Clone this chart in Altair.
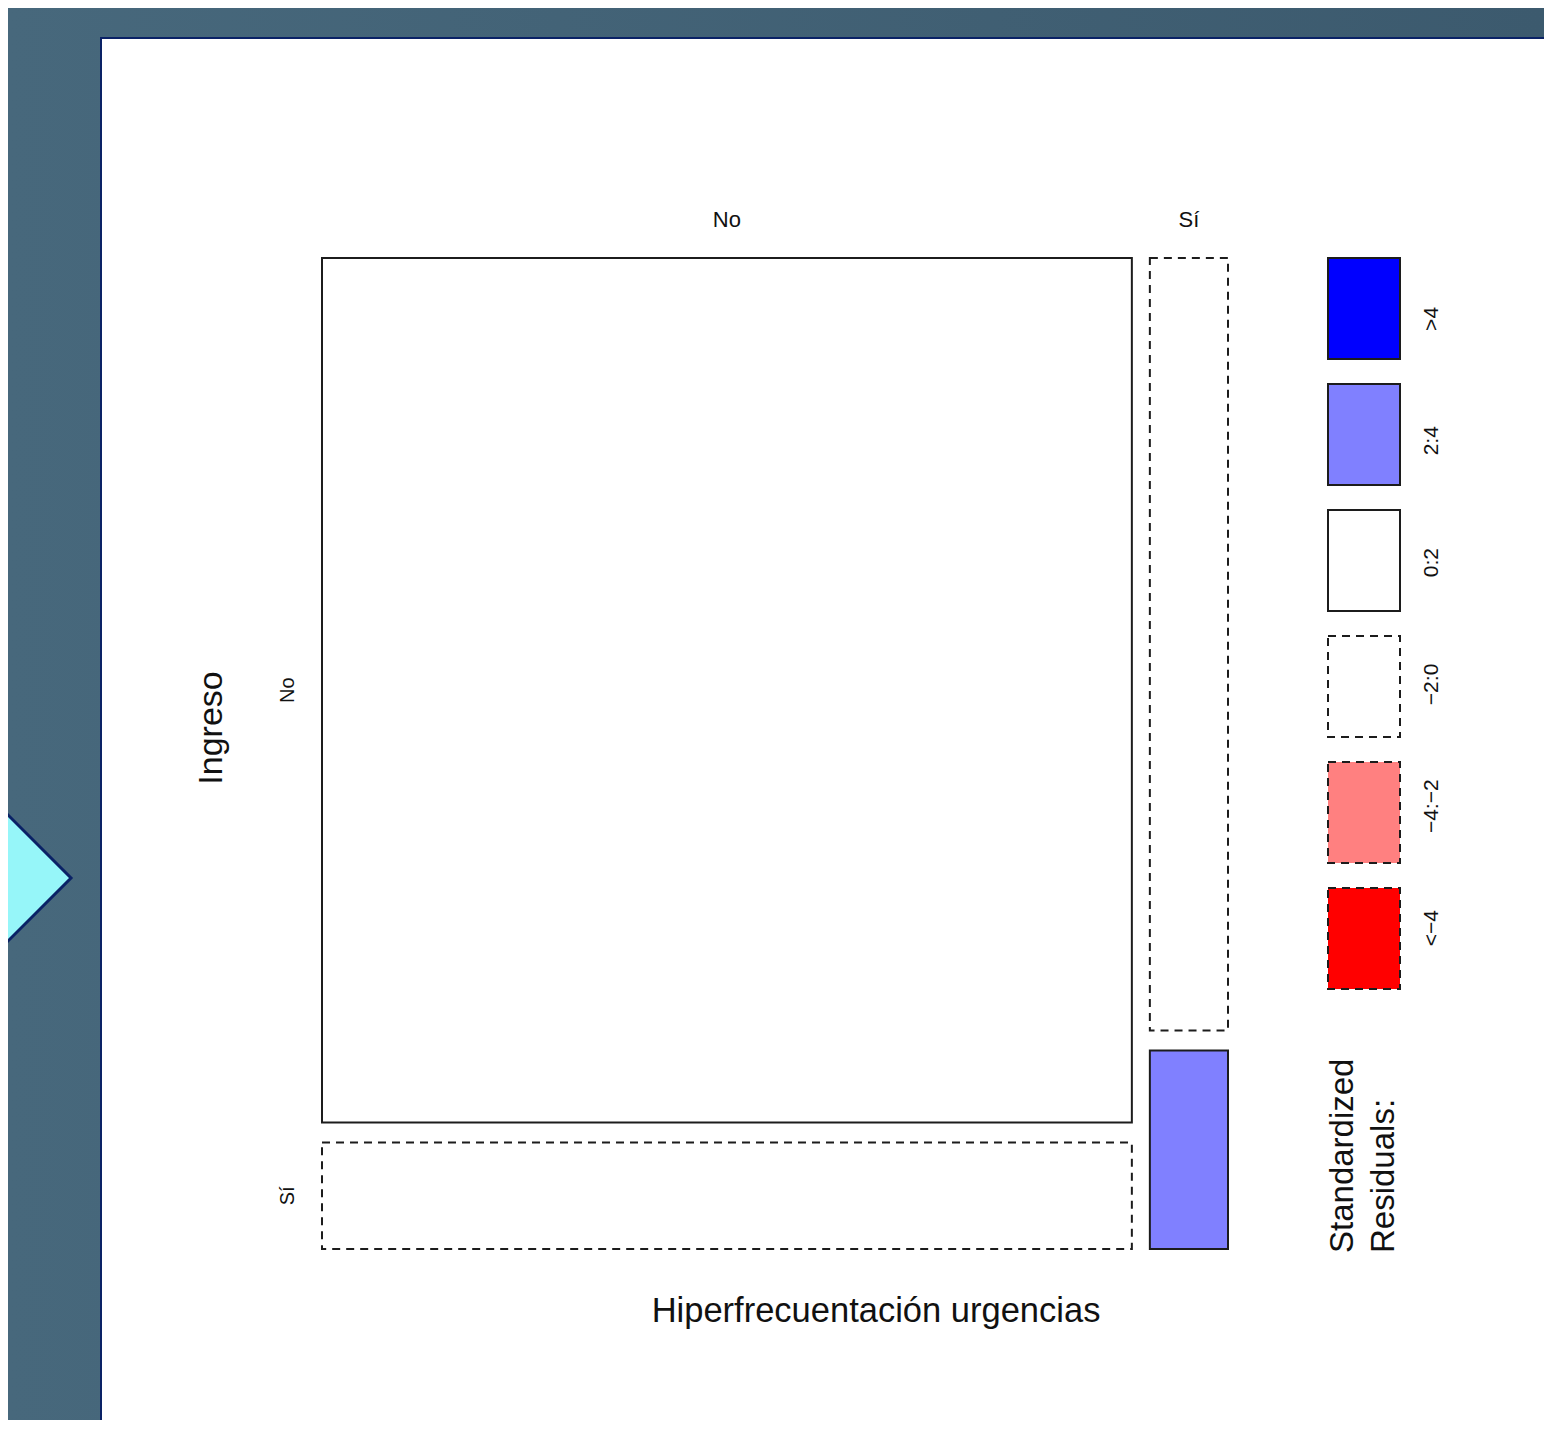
import altair as alt
import numpy as np
import pandas as pd

# ---------------- data ----------------
COL_CATS = ["No", "Sí"]          # Hiperfrecuentación urgencias
ROW_CATS = ["No", "Sí"]          # Ingreso
COL_NO_COUNTS = [812, 100]       # Hiperfrecuentación = No : Ingreso No, Sí
COL_SI_COUNTS = [70, 18]         # Hiperfrecuentación = Sí : Ingreso No, Sí
X_TITLE = "Hiperfrecuentación urgencias"
Y_TITLE = "Ingreso"
LEGEND_TITLE = ["Standardized", "Residuals:"]
LEGEND_LABELS = [">4", "2:4", "0:2", "−2:0", "−4:−2", "<−4"]
LEGEND_COLORS = ["#0000ff", "#8080ff", "#ffffff", "#ffffff", "#ff8080", "#ff0000"]
LEGEND_SIGN = ["pos", "pos", "pos", "neg", "neg", "neg"]

# ---------------- style / layout constants ----------------
FONT = "Liberation Sans"
GAP_X = 18 / 906
GAP_Y = 20 / 991
W, H = 1536, 1412
DASH = [8, 6]
EDGE = "#1c1c1c"
NAVY = "#0a2266"

# ---------------- mosaic computation ----------------
obs = np.array([COL_NO_COUNTS, COL_SI_COUNTS], dtype=float)   # [col, row]
N = obs.sum()
col_tot = obs.sum(axis=1)
row_tot = obs.sum(axis=0)
expected = np.outer(col_tot, row_tot) / N
resid = (obs - expected) / np.sqrt(expected)


def res_class(r):
    if r > 4:
        return ">4"
    if r > 2:
        return "2:4"
    if r >= 0:
        return "0:2"
    if r >= -2:
        return "−2:0"
    if r >= -4:
        return "−4:−2"
    return "<−4"


avail_x = 1 - GAP_X * (len(COL_CATS) - 1)
avail_y = 1 - GAP_Y * (len(ROW_CATS) - 1)
rows = []
x = 0.0
for ci, c in enumerate(COL_CATS):
    w = col_tot[ci] / N * avail_x
    y = 0.0
    for ri, r in enumerate(ROW_CATS):
        h = obs[ci, ri] / col_tot[ci] * avail_y
        rows.append(dict(col=c, row=r, ci=ci, ri=ri, x0=x, x1=x + w, y0=y, y1=y + h,
                         xc=x + w / 2, yc=y + h / 2,
                         cls=res_class(resid[ci, ri]),
                         sign="pos" if resid[ci, ri] >= 0 else "neg"))
        y += h + GAP_Y
    x += w + GAP_X
mos = pd.DataFrame(rows)

col_lab = mos[mos.ri == 0][["col", "xc"]]
row_lab = mos[mos.ci == 0][["row", "yc"]]

leg = pd.DataFrame(dict(label=LEGEND_LABELS, sign=LEGEND_SIGN))

# ---------------- scales ----------------
XS = alt.Scale(domain=[0, 1], range=[314, 1220], nice=False, zero=False)
YS = alt.Scale(domain=[0, 1], range=[250, 1241], nice=False, zero=False)
LEGY = alt.Scale(domain=LEGEND_LABELS, range=[250, 981], paddingInner=25 / 126, paddingOuter=0)
CSCALE = alt.Scale(domain=LEGEND_LABELS, range=LEGEND_COLORS)

one = pd.DataFrame({"k": [0]})

# ---------------- background slide ----------------
bg = alt.Chart(one).mark_rect(
    color=alt.Gradient(
        gradient="linear",
        stops=[alt.GradientStop(color="#47687c", offset=0),
               alt.GradientStop(color="#3c5a6e", offset=1)],
        x1=0, x2=1, y1=0, y2=0,
    )
).encode(x=alt.value(0), x2=alt.value(W), y=alt.value(0), y2=alt.value(H))

panel = alt.Chart(one).mark_rect(fill="white", stroke=NAVY, strokeWidth=2).encode(
    x=alt.value(93), x2=alt.value(W + 10), y=alt.value(30), y2=alt.value(H + 10)
)

arrow = alt.Chart(one).mark_point(
    shape="M-1,-1L0,0L-1,1Z", size=146 * 146, fill="#96f6f9", stroke=NAVY,
    strokeWidth=3, opacity=1, fillOpacity=1, filled=True
).encode(x=alt.value(63), y=alt.value(870))


# ---------------- mosaic ----------------
def tile_layer(sign):
    kw = dict(stroke=EDGE, strokeWidth=2)
    if sign == "neg":
        kw["strokeDash"] = DASH
    return alt.Chart(mos).transform_filter(alt.datum.sign == sign).mark_rect(**kw).encode(
        x=alt.X("x0:Q", scale=XS, axis=None),
        x2="x1:Q",
        y=alt.Y("y0:Q", scale=YS, axis=None),
        y2="y1:Q",
        color=alt.Color("cls:N", scale=CSCALE, legend=None),
    )


tiles_pos = tile_layer("pos")
tiles_neg = tile_layer("neg")

col_text = alt.Chart(col_lab).mark_text(
    font=FONT, fontSize=22, color="#111", align="center", baseline="alphabetic"
).encode(x=alt.X("xc:Q", scale=XS, axis=None), y=alt.value(219), text="col:N")

row_text = alt.Chart(row_lab).mark_text(
    font=FONT, fontSize=20, color="#111", align="center", baseline="alphabetic", angle=270
).encode(y=alt.Y("yc:Q", scale=YS, axis=None), x=alt.value(286), text="row:N")

xtitle = alt.Chart(one).mark_text(
    text=X_TITLE, font=FONT, fontSize=34.5, color="#111", align="center", baseline="alphabetic"
).encode(x=alt.value(868), y=alt.value(1314))

ytitle = alt.Chart(one).mark_text(
    text=Y_TITLE, font=FONT, fontSize=34, color="#111", align="center",
    baseline="alphabetic", angle=270
).encode(x=alt.value(214), y=alt.value(720))


# ---------------- legend ----------------
def leg_layer(sign):
    kw = dict(stroke=EDGE, strokeWidth=2)
    if sign == "neg":
        kw["strokeDash"] = DASH
    return alt.Chart(leg).transform_filter(alt.datum.sign == sign).mark_rect(**kw).encode(
        x=alt.value(1320), x2=alt.value(1392),
        y=alt.Y("label:N", scale=LEGY, axis=None),
        color=alt.Color("label:N", scale=CSCALE, legend=None),
    )


leg_pos = leg_layer("pos")
leg_neg = leg_layer("neg")

leg_text = alt.Chart(leg).mark_text(
    font=FONT, fontSize=21, color="#111", align="center", baseline="alphabetic", angle=270
).encode(x=alt.value(1430), y=alt.Y("label:N", scale=LEGY, axis=None), text="label:N")

leg_title = alt.Chart(pd.DataFrame({"t": LEGEND_TITLE, "i": [0, 1]})).mark_text(
    font=FONT, fontSize=33, color="#111", align="left", baseline="alphabetic", angle=270
).encode(
    x=alt.X("i:Q", scale=alt.Scale(domain=[0, 1], range=[1345, 1386]), axis=None),
    y=alt.value(1245),
    text="t:N",
)

chart = alt.layer(
    bg, panel, arrow, tiles_pos, tiles_neg, col_text, row_text, xtitle, ytitle,
    leg_pos, leg_neg, leg_text, leg_title
).resolve_scale(
    x="independent", y="independent"
).properties(
    width=W, height=H, padding=0, autosize=alt.AutoSizeParams(type="none")
).configure_view(strokeWidth=0).configure(background="#3f5e72")

chart.save("out.html", embed_options={"renderer": "svg", "actions": False})
